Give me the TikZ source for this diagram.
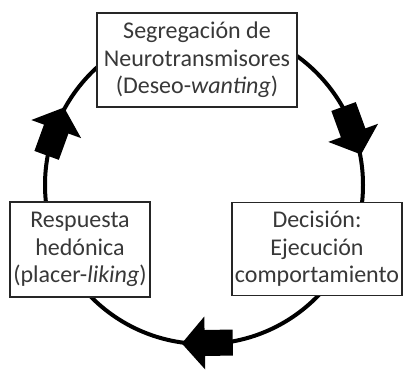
\documentclass[tikz,border=0pt]{standalone}
\usepackage{fontspec}
\setmainfont{Carlito}
\usetikzlibrary{calc}
\begin{document}
\begin{tikzpicture}[x=1pt,y=1pt,
  box/.style={draw=black!85, line width=1.8pt, fill=white, align=center,
    text=black!78, inner sep=0pt, font=\fontsize{24}{27.5}\selectfont},
  ring/.style={line width=4pt, black}]
\useasboundingbox (0,0) rectangle (404,373);
\coordinate (c) at (204,188);
\draw[ring] (c) circle[radius=159];
\foreach \a in {160,20,-89}{
  \fill[black, shift={($(c)+(\a:158)$)}, rotate=\a-90]
    (-26,-13) -- (2,-13) -- (2,-26.5) -- (25,0) -- (2,26.5) -- (2,13) -- (-26,13) -- cycle;
}
\node[box, minimum width=200, minimum height=94] (top) at (197,313)
  {Segregación de\\Neurotransmisores\\(Deseo-\textit{wanting})};
\node[box, minimum width=140, minimum height=95] (left) at (80,123.5)
  {Respuesta\\hedónica\\(placer-\textit{liking})};
\node[box, minimum width=170, minimum height=93] (right) at (317,124)
  {Decisión:\\Ejecución\\comportamiento};
\end{tikzpicture}
\end{document}
